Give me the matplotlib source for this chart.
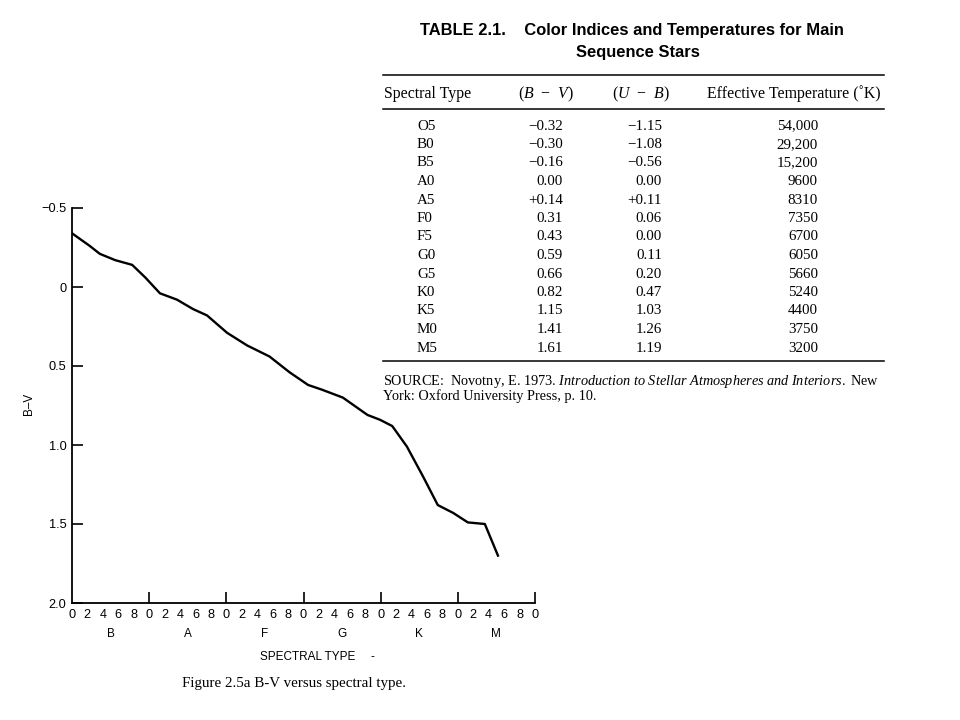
import matplotlib
matplotlib.use("Agg")
import matplotlib.pyplot as plt

# curve (subtype counted from B0, 10 per class)
subtype = [0.0, 2.3, 3.6, 5.6, 7.8, 9.5, 11.4, 13.6, 15.7, 17.5, 20.1, 22.7, 25.6,
           28.2, 30.6, 32.4, 35.1, 38.3, 39.9, 41.5, 43.4, 45.5, 47.4, 49.4, 51.3,
           53.5, 55.2]
b_minus_v = [-0.34, -0.26, -0.21, -0.17, -0.14, -0.06, 0.04, 0.08, 0.14, 0.18, 0.29,
             0.37, 0.44, 0.54, 0.62, 0.65, 0.70, 0.81, 0.84, 0.88, 1.01, 1.20, 1.38,
             1.43, 1.49, 1.50, 1.70]
classes = ["B", "A", "F", "G", "K", "M"]
y_ticks = [-0.5, 0, 0.5, 1.0, 1.5, 2.0]
y_ticklabels = ["\u22120.5", "0", "0.5", "1.0", "1.5", "2.0"]

# Table 2.1
tbl_type = ["O5", "B0", "B5", "A0", "A5", "F0", "F5", "G0", "G5", "K0", "K5", "M0", "M5"]
tbl_bv = ["\u22120.32", "\u22120.30", "\u22120.16", "0.00", "+0.14", "0.31", "0.43",
          "0.59", "0.66", "0.82", "1.15", "1.41", "1.61"]
tbl_ub = ["\u22121.15", "\u22121.08", "\u22120.56", "0.00", "+0.11", "0.06", "0.00",
          "0.11", "0.20", "0.47", "1.03", "1.26", "1.19"]
tbl_teff = ["54,000", "29,200", "15,200", "9600", "8310", "7350", "6700", "6050",
            "5660", "5240", "4400", "3750", "3200"]

plt.rcParams["mathtext.fontset"] = "custom"
plt.rcParams["mathtext.rm"] = "Liberation Serif"
plt.rcParams["mathtext.it"] = "Liberation Serif:italic"

W, H = 960, 720
fig = plt.figure(figsize=(9.6, 7.2), dpi=100)
sans = "Liberation Sans"
serif = "Liberation Serif"


def px(x, y):
    return x / W, 1 - y / H


# --- the plot ---
ax = fig.add_axes([72 / W, 1 - 603 / H, (535 - 72) / W, (603 - 208) / H])
ax.plot(subtype, b_minus_v, color="black", lw=1.7, solid_joinstyle="round")
ax.set_xlim(0, 60)
ax.set_ylim(2.0, -0.5)
for s in ["top", "right"]:
    ax.spines[s].set_visible(False)
for s in ["left", "bottom"]:
    ax.spines[s].set_linewidth(1.3)

ax.set_yticks(y_ticks)
ax.set_yticklabels(y_ticklabels, fontfamily=sans, fontsize=9.2)
ax.tick_params(axis="y", direction="in", length=8, width=1.2, pad=4)

ax.xaxis.remove_overlapping_locs = False
ax.set_xticks(range(10, 61, 10))
ax.set_xticklabels([])
ax.set_xticks(range(0, 61, 2), minor=True)
ax.set_xticklabels([str(v % 10) for v in range(0, 61, 2)], minor=True,
                   fontfamily=sans, fontsize=9.2)
ax.tick_params(axis="x", which="major", direction="in", length=8, width=1.2)
ax.tick_params(axis="x", which="minor", length=0, pad=4)

for i, c in enumerate(classes):
    ax.text(i * 10 + 5, -0.078, c, transform=ax.get_xaxis_transform(),
            ha="center", va="center", fontfamily=sans, fontsize=8.5)

fig.text(*px(29, 404), "B\u2013V", rotation=90, ha="center", va="center",
         fontfamily=sans, fontsize=8.5)
fig.text(*px(308, 657), "SPECTRAL TYPE", ha="center", va="center",
         fontfamily=sans, fontsize=8.5)
fig.text(*px(372, 657), "-", ha="center", va="center", fontfamily=sans, fontsize=8.5)
fig.text(*px(182, 683), "Figure 2.5a B-V versus spectral type.", ha="left",
         va="center", fontfamily=serif, fontsize=10.8)

# --- the table ---
fig.text(*px(632, 30), "TABLE 2.1.    Color Indices and Temperatures for Main",
         ha="center", va="center", fontfamily=sans, fontweight="bold", fontsize=11.9)
fig.text(*px(638, 52), "Sequence Stars", ha="center", va="center",
         fontfamily=sans, fontweight="bold", fontsize=11.9)

for yy in [75, 109, 361]:
    fig.add_artist(plt.Line2D([383 / W, 884 / W], [1 - yy / H] * 2,
                              color="black", lw=1.1))

fig.text(*px(384, 94), "Spectral Type", ha="left", va="center",
         fontfamily=serif, fontsize=11.4)
fig.text(*px(546, 94), "($B$  \u2212  $V$)", ha="center", va="center",
         fontfamily=serif, fontsize=11.4)
fig.text(*px(641, 94), "($U$  \u2212  $B$)", ha="center", va="center",
         fontfamily=serif, fontsize=11.4)
fig.text(*px(881, 94), "Effective Temperature (\u02daK)", ha="right", va="center",
         fontfamily=serif, fontsize=11.4)

for i in range(len(tbl_type)):
    yy = 126 + i * 18.5
    fig.text(*px(417, yy), tbl_type[i], ha="left", va="center",
             fontfamily=serif, fontsize=10.8)
    fig.text(*px(563, yy), tbl_bv[i], ha="right", va="center",
             fontfamily=serif, fontsize=10.8)
    fig.text(*px(662, yy), tbl_ub[i], ha="right", va="center",
             fontfamily=serif, fontsize=10.8)
    fig.text(*px(818, yy), tbl_teff[i], ha="right", va="center",
             fontfamily=serif, fontsize=10.8)

fig.text(*px(383, 381),
         "SOURCE:  Novotny, E. 1973. $\\mathit{Introduction\\ to\\ Stellar\\ Atmospheres"
         "\\ and\\ Interiors.}$ New",
         ha="left", va="center", fontfamily=serif, fontsize=10.3)
fig.text(*px(383, 396), "York: Oxford University Press, p. 10.", ha="left",
         va="center", fontfamily=serif, fontsize=10.3)

fig.savefig("out.png", dpi=100)
